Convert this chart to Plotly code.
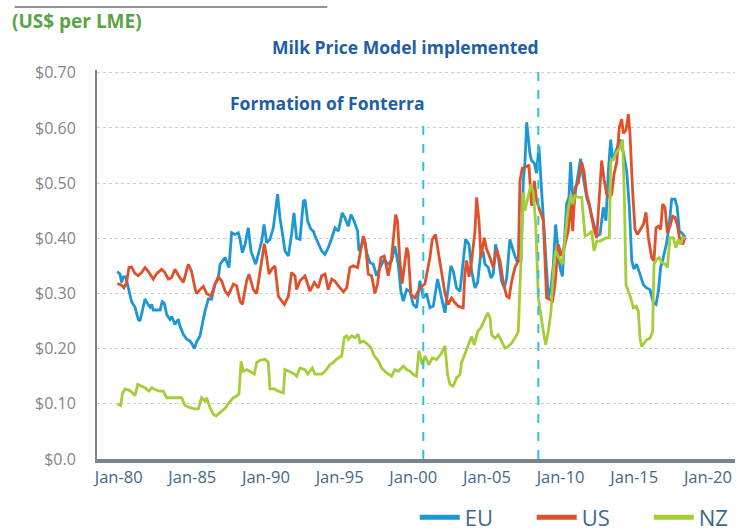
import plotly.graph_objects as go

# ---------------- data ----------------
eu_year = [1979.91, 1980.09, 1980.20, 1980.32, 1980.48, 1980.66, 1980.88, 1981.11, 1981.33, 1981.45,
           1981.67, 1981.79, 1981.90, 1982.13, 1982.24, 1982.35, 1982.58, 1982.81, 1982.96, 1983.10,
           1983.26, 1983.48, 1983.60, 1983.82, 1984.05, 1984.16, 1984.39, 1984.62, 1984.84, 1984.95,
           1985.14, 1985.29, 1985.52, 1985.63, 1985.86, 1986.09, 1986.31, 1986.54, 1986.76, 1986.88,
           1987.10, 1987.22, 1987.49, 1987.67, 1987.90, 1988.12, 1988.24, 1988.40, 1988.58, 1988.80,
           1988.98, 1989.14, 1989.30, 1989.48, 1989.71, 1989.87, 1990.05, 1990.27, 1990.50, 1990.79,
           1990.95, 1991.11, 1991.29, 1991.52, 1991.74, 1991.90, 1992.08, 1992.31, 1992.54, 1992.65,
           1992.83, 1993.06, 1993.22, 1993.33, 1993.55, 1993.78, 1994.01, 1994.23, 1994.46, 1994.69,
           1994.91, 1995.18, 1995.36, 1995.59, 1995.77, 1995.99, 1996.22, 1996.31, 1996.49, 1996.67,
           1996.83, 1997.06, 1997.28, 1997.51, 1997.74, 1998.03, 1998.26, 1998.53, 1998.75, 1998.98,
           1999.16, 1999.32, 1999.55, 1999.77, 2000.00, 2000.22, 2000.45, 2000.68, 2000.90, 2001.13,
           2001.36, 2001.65, 2001.92, 2002.15, 2002.37, 2002.55, 2002.71, 2002.94, 2003.17, 2003.32,
           2003.55, 2003.78, 2003.96, 2004.19, 2004.37, 2004.60, 2004.75, 2004.87, 2005.09, 2005.27,
           2005.43, 2005.59, 2005.77, 2006.00, 2006.18, 2006.34, 2006.56, 2006.79, 2007.02, 2007.31,
           2007.47, 2007.58, 2007.70, 2007.81, 2007.92, 2008.03, 2008.22, 2008.37, 2008.53, 2008.67,
           2008.83, 2008.99, 2009.17, 2009.35, 2009.51, 2009.66, 2009.80, 2009.96, 2010.12, 2010.25,
           2010.41, 2010.57, 2010.68, 2010.78, 2010.91, 2011.05, 2011.21, 2011.36, 2011.54, 2011.77,
           2011.98, 2012.22, 2012.45, 2012.68, 2012.90, 2013.08, 2013.24, 2013.40, 2013.54, 2013.69,
           2013.85, 2014.03, 2014.26, 2014.49, 2014.67, 2014.83, 2014.98, 2015.16, 2015.39, 2015.62,
           2015.84, 2016.07, 2016.30, 2016.48, 2016.64, 2016.79, 2016.97, 2017.20, 2017.38, 2017.54,
           2017.77, 2017.92, 2018.06, 2018.22, 2018.45]
eu_value = [0.340, 0.335, 0.320, 0.330, 0.330, 0.310, 0.285, 0.275, 0.253, 0.250,
            0.280, 0.290, 0.284, 0.275, 0.280, 0.270, 0.270, 0.270, 0.285, 0.282,
            0.262, 0.253, 0.258, 0.244, 0.253, 0.241, 0.226, 0.217, 0.214, 0.210,
            0.200, 0.212, 0.223, 0.238, 0.268, 0.290, 0.290, 0.317, 0.326, 0.353,
            0.360, 0.365, 0.347, 0.410, 0.407, 0.410, 0.398, 0.374, 0.389, 0.419,
            0.377, 0.365, 0.353, 0.371, 0.395, 0.425, 0.392, 0.398, 0.419, 0.480,
            0.437, 0.410, 0.377, 0.368, 0.407, 0.446, 0.400, 0.398, 0.467, 0.470,
            0.431, 0.416, 0.413, 0.404, 0.389, 0.377, 0.371, 0.383, 0.400, 0.419,
            0.413, 0.446, 0.437, 0.422, 0.443, 0.431, 0.413, 0.377, 0.386, 0.400,
            0.374, 0.356, 0.353, 0.332, 0.347, 0.362, 0.353, 0.359, 0.386, 0.353,
            0.304, 0.286, 0.307, 0.304, 0.280, 0.274, 0.323, 0.292, 0.300, 0.274,
            0.277, 0.326, 0.292, 0.265, 0.310, 0.350, 0.341, 0.310, 0.304, 0.344,
            0.398, 0.389, 0.341, 0.310, 0.320, 0.377, 0.374, 0.353, 0.347, 0.328,
            0.335, 0.389, 0.365, 0.322, 0.310, 0.328, 0.398, 0.377, 0.359, 0.359,
            0.504, 0.538, 0.610, 0.582, 0.553, 0.541, 0.536, 0.518, 0.567, 0.504,
            0.438, 0.371, 0.292, 0.310, 0.353, 0.425, 0.389, 0.347, 0.331, 0.395,
            0.462, 0.475, 0.538, 0.490, 0.462, 0.492, 0.516, 0.544, 0.510, 0.474,
            0.456, 0.432, 0.404, 0.407, 0.456, 0.432, 0.521, 0.579, 0.541, 0.553,
            0.564, 0.579, 0.556, 0.521, 0.456, 0.359, 0.344, 0.353, 0.335, 0.316,
            0.310, 0.307, 0.283, 0.280, 0.304, 0.347, 0.365, 0.392, 0.425, 0.471,
            0.471, 0.456, 0.413, 0.410, 0.402]

us_year = [1979.91, 1980.20, 1980.36, 1980.54, 1980.70, 1980.88, 1981.11, 1981.33, 1981.56, 1981.79,
           1982.01, 1982.35, 1982.58, 1982.92, 1983.14, 1983.37, 1983.60, 1983.82, 1984.05, 1984.39,
           1984.73, 1984.95, 1985.18, 1985.29, 1985.52, 1985.75, 1985.97, 1986.27, 1986.54, 1986.76,
           1986.99, 1987.22, 1987.44, 1987.79, 1988.01, 1988.24, 1988.40, 1988.69, 1988.85, 1989.14,
           1989.37, 1989.60, 1989.89, 1990.05, 1990.21, 1990.39, 1990.61, 1990.84, 1991.07, 1991.25,
           1991.52, 1991.74, 1991.97, 1992.08, 1992.31, 1992.65, 1992.99, 1993.28, 1993.55, 1993.78,
           1994.01, 1994.23, 1994.46, 1994.69, 1994.91, 1995.25, 1995.48, 1995.70, 1995.93, 1996.22,
           1996.38, 1996.60, 1996.76, 1996.94, 1997.17, 1997.40, 1997.58, 1997.80, 1998.03, 1998.30,
           1998.53, 1998.80, 1998.93, 1999.09, 1999.25, 1999.55, 1999.66, 1999.84, 2000.11, 2000.45,
           2000.79, 2001.13, 2001.29, 2001.51, 2001.69, 2001.92, 2002.15, 2002.37, 2002.60, 2002.83,
           2003.05, 2003.39, 2003.50, 2003.62, 2003.78, 2003.96, 2004.19, 2004.30, 2004.46, 2004.60,
           2004.82, 2004.98, 2005.21, 2005.43, 2005.66, 2005.89, 2006.11, 2006.34, 2006.50, 2006.68,
           2006.90, 2007.13, 2007.24, 2007.40, 2007.70, 2007.85, 2008.03, 2008.22, 2008.37, 2008.60,
           2008.83, 2009.05, 2009.28, 2009.44, 2009.62, 2009.84, 2010.07, 2010.30, 2010.52, 2010.70,
           2010.82, 2010.98, 2011.21, 2011.43, 2011.59, 2011.77, 2011.95, 2012.11, 2012.27, 2012.45,
           2012.63, 2012.79, 2012.95, 2013.13, 2013.31, 2013.47, 2013.63, 2013.81, 2013.99, 2014.15,
           2014.26, 2014.44, 2014.60, 2014.71, 2014.89, 2015.05, 2015.21, 2015.39, 2015.62, 2015.80,
           2015.96, 2016.18, 2016.34, 2016.48, 2016.64, 2016.79, 2016.93, 2017.09, 2017.25, 2017.43,
           2017.61, 2017.77, 2017.92, 2018.11, 2018.29, 2018.45]
us_value = [0.318, 0.315, 0.310, 0.320, 0.347, 0.348, 0.336, 0.332, 0.338, 0.347,
            0.340, 0.326, 0.336, 0.344, 0.338, 0.326, 0.329, 0.344, 0.333, 0.320,
            0.353, 0.340, 0.310, 0.300, 0.307, 0.313, 0.300, 0.295, 0.317, 0.330,
            0.323, 0.305, 0.297, 0.317, 0.314, 0.286, 0.280, 0.323, 0.335, 0.307,
            0.300, 0.344, 0.390, 0.365, 0.335, 0.344, 0.350, 0.295, 0.286, 0.280,
            0.295, 0.338, 0.332, 0.307, 0.323, 0.332, 0.304, 0.320, 0.310, 0.332,
            0.335, 0.307, 0.326, 0.322, 0.314, 0.303, 0.310, 0.347, 0.350, 0.347,
            0.371, 0.404, 0.389, 0.335, 0.332, 0.300, 0.318, 0.365, 0.368, 0.332,
            0.365, 0.443, 0.431, 0.359, 0.318, 0.383, 0.374, 0.298, 0.292, 0.310,
            0.317, 0.365, 0.398, 0.407, 0.377, 0.341, 0.300, 0.280, 0.292, 0.283,
            0.277, 0.274, 0.335, 0.360, 0.330, 0.359, 0.413, 0.474, 0.432, 0.365,
            0.401, 0.380, 0.365, 0.347, 0.380, 0.359, 0.319, 0.295, 0.292, 0.322,
            0.347, 0.359, 0.504, 0.527, 0.530, 0.533, 0.459, 0.504, 0.468, 0.450,
            0.432, 0.292, 0.289, 0.283, 0.316, 0.389, 0.368, 0.389, 0.413, 0.468,
            0.413, 0.492, 0.501, 0.538, 0.521, 0.480, 0.462, 0.438, 0.416, 0.401,
            0.468, 0.541, 0.507, 0.480, 0.474, 0.480, 0.516, 0.538, 0.602, 0.616,
            0.590, 0.596, 0.625, 0.590, 0.486, 0.416, 0.407, 0.416, 0.425, 0.447,
            0.401, 0.365, 0.359, 0.419, 0.422, 0.416, 0.462, 0.456, 0.410, 0.422,
            0.440, 0.438, 0.425, 0.395, 0.389, 0.402]

nz_year = [1979.91, 1980.14, 1980.25, 1980.43, 1980.77, 1981.11, 1981.29, 1981.56, 1981.79, 1982.06,
           1982.24, 1982.47, 1982.74, 1983.03, 1983.26, 1983.82, 1984.28, 1984.50, 1984.84, 1985.18,
           1985.41, 1985.63, 1985.86, 1985.97, 1986.20, 1986.43, 1986.61, 1986.88, 1987.22, 1987.49,
           1987.79, 1988.01, 1988.17, 1988.31, 1988.46, 1988.69, 1988.92, 1989.21, 1989.37, 1989.60,
           1989.82, 1989.93, 1990.16, 1990.27, 1990.57, 1990.84, 1991.18, 1991.29, 1991.63, 1991.93,
           1992.08, 1992.31, 1992.65, 1992.83, 1993.15, 1993.33, 1993.78, 1994.01, 1994.35, 1994.57,
           1994.80, 1995.14, 1995.32, 1995.48, 1995.59, 1995.81, 1996.04, 1996.26, 1996.38, 1996.60,
           1996.90, 1997.12, 1997.35, 1997.62, 1997.85, 1998.19, 1998.53, 1998.75, 1998.98, 1999.32,
           1999.55, 1999.77, 2000.00, 2000.22, 2000.38, 2000.61, 2000.79, 2001.06, 2001.29, 2001.58,
           2001.92, 2002.15, 2002.33, 2002.49, 2002.71, 2002.94, 2003.17, 2003.28, 2003.50, 2003.74,
           2003.96, 2004.14, 2004.37, 2004.60, 2004.82, 2005.05, 2005.21, 2005.32, 2005.55, 2005.77,
           2006.00, 2006.22, 2006.45, 2006.68, 2006.90, 2007.13, 2007.31, 2007.47, 2007.58, 2007.81,
           2007.99, 2008.15, 2008.31, 2008.49, 2008.67, 2008.83, 2008.99, 2009.17, 2009.35, 2009.51,
           2009.66, 2009.89, 2010.12, 2010.30, 2010.48, 2010.70, 2010.82, 2010.98, 2011.21, 2011.43,
           2011.66, 2011.88, 2012.11, 2012.27, 2012.45, 2012.68, 2012.90, 2013.13, 2013.31, 2013.40,
           2013.58, 2013.81, 2014.03, 2014.21, 2014.33, 2014.44, 2014.60, 2014.76, 2014.94, 2015.12,
           2015.28, 2015.39, 2015.50, 2015.66, 2015.84, 2016.07, 2016.25, 2016.34, 2016.52, 2016.70,
           2016.86, 2017.09, 2017.25, 2017.43, 2017.65, 2017.83, 2017.99, 2018.15, 2018.29, 2018.45]
nz_value = [0.100, 0.097, 0.118, 0.127, 0.124, 0.115, 0.135, 0.132, 0.129, 0.123,
            0.129, 0.126, 0.123, 0.123, 0.111, 0.111, 0.111, 0.097, 0.093, 0.091,
            0.091, 0.111, 0.105, 0.111, 0.093, 0.081, 0.078, 0.084, 0.092, 0.102,
            0.111, 0.114, 0.118, 0.177, 0.159, 0.162, 0.158, 0.154, 0.175, 0.179,
            0.180, 0.181, 0.175, 0.127, 0.127, 0.123, 0.120, 0.162, 0.158, 0.154,
            0.150, 0.165, 0.162, 0.154, 0.165, 0.154, 0.154, 0.159, 0.171, 0.175,
            0.181, 0.187, 0.220, 0.223, 0.217, 0.223, 0.220, 0.226, 0.211, 0.214,
            0.208, 0.202, 0.187, 0.178, 0.165, 0.156, 0.150, 0.162, 0.159, 0.168,
            0.162, 0.159, 0.153, 0.150, 0.196, 0.171, 0.187, 0.171, 0.183, 0.180,
            0.192, 0.205, 0.153, 0.135, 0.132, 0.147, 0.153, 0.175, 0.190, 0.207,
            0.222, 0.207, 0.231, 0.238, 0.250, 0.265, 0.256, 0.225, 0.219, 0.225,
            0.213, 0.201, 0.204, 0.210, 0.219, 0.231, 0.359, 0.483, 0.450, 0.474,
            0.498, 0.483, 0.425, 0.292, 0.256, 0.231, 0.207, 0.231, 0.268, 0.341,
            0.377, 0.365, 0.353, 0.401, 0.447, 0.480, 0.462, 0.477, 0.474, 0.474,
            0.404, 0.407, 0.413, 0.377, 0.395, 0.395, 0.398, 0.401, 0.401, 0.538,
            0.544, 0.556, 0.564, 0.579, 0.474, 0.316, 0.304, 0.292, 0.274, 0.277,
            0.268, 0.219, 0.204, 0.210, 0.216, 0.219, 0.231, 0.353, 0.362, 0.365,
            0.356, 0.353, 0.347, 0.401, 0.401, 0.383, 0.398, 0.389, 0.401, 0.400]

series_names = ["EU", "US", "NZ"]
tick_years = [1980, 1985, 1990, 1995, 2000, 2005, 2010, 2015, 2020]
tick_labels = ["Jan-80", "Jan-85", "Jan-90", "Jan-95", "Jan-00", "Jan-05", "Jan-10", "Jan-15", "Jan-20"]
y_ticks = [0.0, 0.1, 0.2, 0.3, 0.4, 0.5, 0.6, 0.7]
y_labels = ["$0.0", "$0.10", "$0.20", "$0.30", "$0.40", "$0.50", "$0.60", "$0.70"]

event_years = [2000.68, 2008.49]
event_labels = ["Formation of Fonterra", "Milk Price Model implemented"]

# ---------------- figure ----------------
FONT = "Open Sans"
COLORS = ["#1b97d4", "#e0512b", "#a5cd39"]
fig = go.Figure()
for name, xs, ys, col in zip(series_names, [eu_year, us_year, nz_year],
                             [eu_value, us_value, nz_value], COLORS):
    fig.add_trace(go.Scatter(x=xs, y=ys, name=name, mode="lines", showlegend=False,
                             line=dict(color=col, width=2.8)))
# legend entries (thicker swatches, as in the reference)
for name, col in zip(series_names, COLORS):
    fig.add_trace(go.Scatter(x=[None], y=[None], name=name, mode="lines",
                             line=dict(color=col, width=5)))

# event lines
tops = [0.877, 1.018]
for yr, top in zip(event_years, tops):
    fig.add_shape(type="line", xref="x", yref="paper", x0=yr, x1=yr, y0=0, y1=top,
                  line=dict(color="#2ec3d6", width=2, dash="dash"), layer="above")

fig.add_annotation(x=event_years[0], xref="x", y=0.915, yref="paper", text=event_labels[0],
                   showarrow=False, xanchor="right", yanchor="middle", xshift=3,
                   font=dict(family=FONT, size=17.5, color="#1d5ea6", weight="bold"))
fig.add_annotation(x=event_years[1], xref="x", y=1.059, yref="paper", text=event_labels[1],
                   showarrow=False, xanchor="right", yanchor="middle", xshift=3,
                   font=dict(family=FONT, size=17.5, color="#1d5ea6", weight="bold"))

# unit label and top rule
fig.add_annotation(x=-0.137, xref="paper", y=1.127, yref="paper", text="(US$ per LME)",
                   showarrow=False, xanchor="left", yanchor="middle",
                   font=dict(family=FONT, size=19, color="#5aa346", weight="bold"))
fig.add_shape(type="line", xref="paper", yref="paper", x0=-0.129, x1=0.361, y0=1.162, y1=1.162,
              line=dict(color="#6f6f6f", width=1.5))

fig.update_layout(
    width=738, height=531,
    margin=dict(l=97, r=3, t=70, b=72, autoexpand=False),
    paper_bgcolor="white", plot_bgcolor="white",
    showlegend=True,
    legend=dict(orientation="h", x=0.498, xanchor="left", y=-0.15, yanchor="middle",
                font=dict(family=FONT, size=22, color="#3d6a8c"),
                itemwidth=40, entrywidth=62, bgcolor="rgba(0,0,0,0)"),
    xaxis=dict(range=[1978.53, 2021.84], tickmode="array", tickvals=tick_years,
               ticktext=tick_labels, showgrid=False, zeroline=False,
               showline=True, linecolor="#76858b", linewidth=4,
               ticks="", tickfont=dict(family=FONT, size=16.5, color="#40698a")),
    yaxis=dict(range=[0, 0.705], tickmode="array", tickvals=y_ticks, ticktext=y_labels,
               showgrid=True, gridcolor="#c9d0d3", griddash="dot", gridwidth=1,
               zeroline=False, showline=True, linecolor="#76858b", linewidth=2,
               ticks="", ticklabelstandoff=16,
               tickfont=dict(family=FONT, size=16, color="#858585")),
)

fig.write_html("out.html", config={"displayModeBar": False},
               post_script="document.body.style.margin='0';")
